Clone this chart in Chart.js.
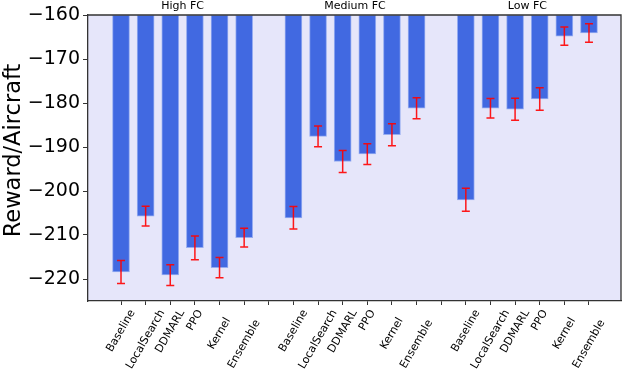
<!DOCTYPE html>
<html>
<head>
<meta charset="utf-8">
<script src="https://cdn.jsdelivr.net/npm/chart.js@4/dist/chart.umd.min.js"></script>
<style>
  html, body { margin: 0; padding: 0; background: #fff; }
  #wrap { width: 622px; height: 374px; }
</style>
</head>
<body>
<div id="wrap"><canvas id="rewardChart" width="622" height="374"></canvas></div>
<script>
// data
const groups = ['High FC', 'Medium FC', 'Low FC'];
const methods = ['Baseline', 'LocalSearch', 'DDMARL', 'PPO', 'Kernel', 'Ensemble'];
const highFC = [-218.4, -205.7, -219.1, -212.9, -217.4, -210.6];
const mediumFC = [-206.1, -187.6, -193.3, -191.6, -187.2, -181.2];
const lowFC = [-202.0, -181.2, -181.4, -179.1, -164.8, -164.1];
const highErr = [2.6, 2.25, 2.35, 2.7, 2.3, 2.15];
const mediumErr = [2.55, 2.35, 2.5, 2.35, 2.5, 2.4];
const lowErr = [2.6, 2.2, 2.5, 2.55, 2.1, 2.1];
const xLabels = [...methods, '', ...methods, '', ...methods];
const yTicks = [-220, -210, -200, -190, -180, -170, -160];
const yTitle = 'Reward/Aircraft';
const barTop = -160;

const values = [highFC, mediumFC, lowFC];
const errors = [highErr, mediumErr, lowErr];

// slot index of each bar (a blank slot between groups)
const points = [];
values.forEach((arr, g) => {
    arr.forEach((v, i) => {
        points.push({ x: g * 7 + i, y: [barTop, v], v: v, err: errors[g][i] });
    });
});

const FONT = "'DejaVu Sans', sans-serif";
const SPINE = '#333333';
// the last two labels sit a little lower in the original
const labelDrop = { Kernel: 8, Ensemble: 10 };

const framePlugin = {
    id: 'frame',
    beforeDraw(chart) {
        const a = chart.chartArea, ctx = chart.ctx;
        ctx.save();
        ctx.fillStyle = '#e6e6fa';
        ctx.fillRect(a.left, a.top, a.right - a.left, a.bottom - a.top);
        ctx.restore();
    },
    afterDraw(chart) {
        const a = chart.chartArea, ctx = chart.ctx;
        const xs = chart.scales.x, ys = chart.scales.y;
        ctx.save();

        // error bars
        ctx.strokeStyle = 'rgba(255, 0, 0, 0.9)';
        ctx.lineWidth = 1.5;
        points.forEach(p => {
            const px = xs.getPixelForValue(p.x);
            const y1 = ys.getPixelForValue(p.v + p.err);
            const y2 = ys.getPixelForValue(p.v - p.err);
            ctx.beginPath();
            ctx.moveTo(px, y1); ctx.lineTo(px, y2);
            ctx.moveTo(px - 4, y1); ctx.lineTo(px + 4, y1);
            ctx.moveTo(px - 4, y2); ctx.lineTo(px + 4, y2);
            ctx.stroke();
        });

        // top and right spines
        ctx.strokeStyle = SPINE;
        ctx.lineWidth = 1.3;
        ctx.beginPath();
        ctx.moveTo(a.left, a.top); ctx.lineTo(a.right, a.top); ctx.lineTo(a.right, a.bottom);
        ctx.stroke();

        ctx.fillStyle = '#000';
        ctx.textAlign = 'center';

        // y title
        ctx.save();
        ctx.font = '22.5px ' + FONT;
        ctx.textBaseline = 'alphabetic';
        ctx.translate(20, 150.5);
        ctx.rotate(-Math.PI / 2);
        ctx.fillText(yTitle, 0, 0);
        ctx.restore();

        ctx.textBaseline = 'middle';

        // group titles
        ctx.font = '11px ' + FONT;
        groups.forEach((g, i) => {
            ctx.fillText(g, xs.getPixelForValue(i * 7 + 2.5), 6);
        });

        // rotated category labels, box centred under the tick like matplotlib
        const ang = 60 * Math.PI / 180;
        const h = 11;
        xLabels.forEach((lab, i) => {
            if (!lab) return;
            const w = ctx.measureText(lab).width;
            const bh = w * Math.sin(ang) + h * Math.cos(ang);
            const cx = xs.getPixelForValue(i);
            const cy = a.bottom + 7 + (labelDrop[lab] || 0) + bh / 2;
            ctx.save();
            ctx.translate(cx, cy);
            ctx.rotate(-ang);
            ctx.fillText(lab, 0, 0);
            ctx.restore();
        });
        ctx.restore();
    }
};

new Chart(document.getElementById('rewardChart'), {
    type: 'bar',
    data: {
        datasets: [{
            data: points,
            backgroundColor: '#4169e1',
            borderColor: 'rgba(140, 165, 240, 0.9)',
            borderWidth: 1,
            borderSkipped: false,
            barThickness: 17
        }]
    },
    options: {
        responsive: false,
        animation: false,
        layout: { padding: { top: 15, right: 1, bottom: 0, left: 0 } },
        plugins: { legend: { display: false }, tooltip: { enabled: false } },
        scales: {
            x: {
                type: 'linear',
                offset: false,
                min: -1.34,
                max: 20.3,
                afterBuildTicks: s => { s.ticks = xLabels.map((_, i) => ({ value: i })); },
                afterFit: s => { s.height = 73; },
                ticks: { callback: () => '', autoSkip: false, maxRotation: 0 },
                grid: { offset: false, drawOnChartArea: false, drawTicks: true, tickLength: 4, color: SPINE, lineWidth: 1 },
                border: { display: true, color: SPINE, width: 1.3 }
            },
            y: {
                min: -225,
                max: -160,
                afterBuildTicks: s => { s.ticks = yTicks.map(v => ({ value: v })); },
                afterFit: s => { s.width = 88; },
                ticks: {
                    color: '#000',
                    padding: 3,
                    font: { family: FONT, size: 19 },
                    callback: v => String(v).replace('-', '\u2212')
                },
                grid: { drawOnChartArea: false, drawTicks: true, tickLength: 5, color: SPINE, lineWidth: 1 },
                border: { display: true, color: SPINE, width: 1.3 }
            }
        }
    },
    plugins: [framePlugin]
});
</script>
</body>
</html>
